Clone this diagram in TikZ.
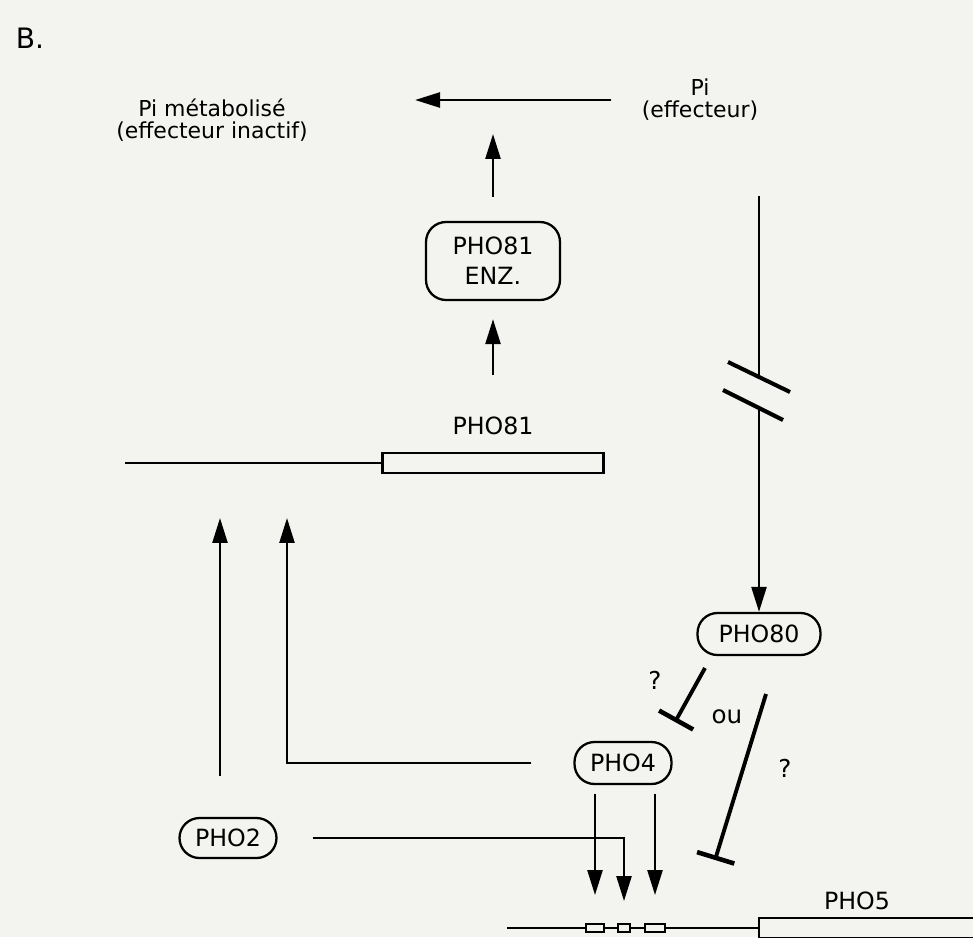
\documentclass[tikz,border=0pt]{standalone}
\usepackage{fontspec}
\setmainfont{DejaVu Sans}
\usetikzlibrary{
    arrows.meta,
    positioning
}
\definecolor{paper}{RGB}{243,243,239}

\begin{document}
\begin{tikzpicture}[
    x=0.02cm, y=-0.02cm,
    txt/.style={inner sep=0pt, align=center, font=\fontsize{12.5pt}{12.5pt}\selectfont},
    glab/.style={inner sep=0pt, font=\fontsize{13.5pt}{13.5pt}\selectfont},
    prot/.style={draw, line width=1.3pt, rounded corners=0.4cm, minimum height=0.84cm, minimum width=1.94cm, inner sep=0pt, align=center, font=\fontsize{13.5pt}{17pt}\selectfont},
    gene/.style={draw, line width=1.2pt, minimum height=0.4cm, inner sep=0pt, fill=paper},
    site/.style={draw, line width=1.1pt, minimum height=0.16cm, inner sep=0pt, fill=paper},
    arr/.style={-{Triangle[length=0.5cm, width=0.3cm]}, line width=1.4pt},
    inh/.style={-{Bar[width=0.78cm, line width=2.6pt]}, line width=2.2pt},
    brk/.style={line width=2.3pt}
]
\clip (0,0) rectangle (973,937);
\fill[paper] (0,0) rectangle (973,937);

\node[txt, font=\fontsize{16pt}{16pt}\selectfont] (panel) at (30,38) {B.};

% effecteur
\node[txt] (meta) at (212,120) {Pi métabolisé\\(effecteur inactif)};
\node[txt] (pi) at (700,100) {Pi\\(effecteur)};
\draw[arr, shorten <=0.6cm, shorten >=2.14cm] (pi.west) -- (pi.west -| meta.east);

% PHO81
\node[prot, minimum width=2.68cm, minimum height=1.56cm] (enz) at (493,261) {PHO81\\ENZ.};
\node[gene, minimum width=4.42cm] (g81) at (493,463) {};
\node[glab, above=0.33cm of g81] (g81lab) {PHO81};
\coordinate (g81start) at (125,463);
\draw[line width=1.2pt] (g81start) -- (g81.west);
\coordinate (react) at (493,98);
\draw[arr, shorten <=0.84cm, shorten >=0.36cm] (g81lab) -- (enz);
\draw[arr, shorten <=0.48cm, shorten >=0.72cm] (enz) -- (react);

% regulateurs
\node[prot, minimum width=2.46cm] (pho80) at (759,634) {PHO80};
\node[prot] (pho4) at (623,763) {PHO4};
\node[prot, minimum height=0.8cm] (pho2) at (228,838) {PHO2};

% PHO5
\node[gene, minimum width=4.68cm] (g5) at (876,928) {};
\node[glab, above=0.13cm of g5, xshift=-0.38cm] (g5lab) {PHO5};
\coordinate (g5start) at (507,928);
\draw[line width=1.2pt] (g5start) -- (g5.west);
\node[site, minimum width=0.36cm] (uas1) at (595,928) {};
\node[site, minimum width=0.24cm] (uas2) at (624,928) {};
\node[site, minimum width=0.4cm] (uas3) at (655,928) {};

% Pi -> PHO80
\coordinate (brk1) at (759,377);
\coordinate (brk2) at (759,406);
\draw[line width=1.4pt, shorten <=1.5cm] (pi.south -| pho80.north) -- (brk1);
\draw[arr] (brk2) -- (pho80.north);
\draw[brk] (brk1) ++(-31,-15) -- ++(62,30);
\draw[brk] (brk2) ++(-36,-16) -- ++(60,30);

% activation
\coordinate (p81a) at (220,463);
\coordinate (p81b) at (287,463);
\draw[arr, shorten <=0.82cm, shorten >=1.1cm] (p81a |- pho2.north) -- (p81a);
\draw[arr, shorten <=0.84cm, shorten >=1.1cm] (pho4.west) -| (p81b);
\draw[arr, shorten <=0.7cm, shorten >=0.44cm] (pho2.east) -| (uas2.north);
\draw[arr, shorten <=0.17cm, shorten >=0.56cm] (pho4.south -| uas1.north) -- (uas1.north);
\draw[arr, shorten <=0.17cm, shorten >=0.56cm] (pho4.south -| uas3.north) -- (uas3.north);

% inhibition
\coordinate (q1a) at (705,668);
\coordinate (q1b) at (675,722);
\coordinate (q2a) at (766,694);
\coordinate (q2b) at (715,860);
\draw[inh] (q1a) -- (q1b);
\draw[inh] (q2a) -- (q2b);
\node[txt, font=\fontsize{14pt}{14pt}\selectfont] (ask1) at (655,680) {?};
\node[txt, font=\fontsize{14pt}{14pt}\selectfont] (ou) at (727,717) {ou};
\node[txt, font=\fontsize{14pt}{14pt}\selectfont] (ask2) at (785,768) {?};
\end{tikzpicture}
\end{document}
